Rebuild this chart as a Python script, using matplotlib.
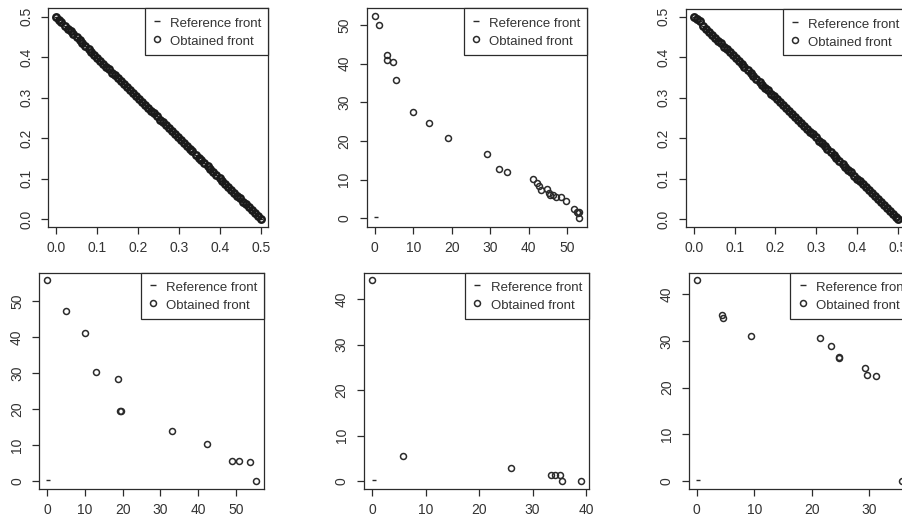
import matplotlib
matplotlib.use('Agg')
import matplotlib.pyplot as plt
from matplotlib.lines import Line2D

plt.rcParams['font.family'] = ['Liberation Sans', 'DejaVu Sans']

#%% data
# panel 1 (top left)
p1_x = [0.000, 0.007, 0.014, 0.022, 0.029, 0.036, 0.043, 0.051, 0.058, 0.065,
        0.072, 0.080, 0.087, 0.094, 0.101, 0.109, 0.116, 0.123, 0.130, 0.138,
        0.145, 0.152, 0.159, 0.167, 0.174, 0.181, 0.188, 0.196, 0.203, 0.210,
        0.217, 0.225, 0.232, 0.239, 0.246, 0.254, 0.261, 0.268, 0.275, 0.283,
        0.290, 0.297, 0.304, 0.312, 0.319, 0.326, 0.333, 0.341, 0.348, 0.355,
        0.362, 0.370, 0.377, 0.384, 0.391, 0.399, 0.406, 0.413, 0.420, 0.428,
        0.435, 0.442, 0.449, 0.457, 0.464, 0.471, 0.478, 0.486, 0.493, 0.500]
p1_y = [0.500, 0.493, 0.486, 0.478, 0.471, 0.464, 0.457, 0.449, 0.442, 0.435,
        0.428, 0.420, 0.413, 0.406, 0.399, 0.391, 0.384, 0.377, 0.370, 0.362,
        0.355, 0.348, 0.341, 0.333, 0.326, 0.319, 0.312, 0.304, 0.297, 0.290,
        0.283, 0.275, 0.268, 0.261, 0.254, 0.246, 0.239, 0.232, 0.225, 0.217,
        0.210, 0.203, 0.196, 0.188, 0.181, 0.174, 0.167, 0.159, 0.152, 0.145,
        0.138, 0.130, 0.123, 0.116, 0.109, 0.101, 0.094, 0.087, 0.080, 0.072,
        0.065, 0.058, 0.051, 0.043, 0.036, 0.029, 0.022, 0.014, 0.007, 0.000]

# panel 2 (top middle)
p2_x = [0.0, 1.1, 3.2, 3.3, 4.7, 5.5, 10.0, 14.0, 19.0, 29.2, 32.2, 34.4,
        41.1, 42.2, 42.7, 43.3, 44.8, 45.2, 45.5, 46.4, 47.2, 48.3, 49.7,
        51.7, 52.6, 52.9, 53.1, 53.1]
p2_y = [52.2, 50.0, 42.1, 40.9, 40.3, 35.8, 27.4, 24.6, 20.9, 16.6, 12.8, 12.0,
        10.3, 9.2, 8.4, 7.3, 7.5, 6.6, 6.0, 6.0, 5.6, 5.4, 4.4,
        2.5, 1.7, 1.3, 1.6, 0.0]

# panel 3 (top right)
p3_x = [0.000, 0.008, 0.015, 0.024, 0.030, 0.037, 0.045, 0.052, 0.059, 0.066,
        0.074, 0.081, 0.088, 0.095, 0.103, 0.110, 0.117, 0.124, 0.132, 0.139,
        0.146, 0.153, 0.161, 0.168, 0.175, 0.182, 0.190, 0.197, 0.204, 0.211,
        0.219, 0.226, 0.233, 0.240, 0.248, 0.255, 0.262, 0.269, 0.277, 0.284,
        0.291, 0.298, 0.306, 0.313, 0.320, 0.327, 0.335, 0.342, 0.349, 0.356,
        0.364, 0.371, 0.378, 0.385, 0.393, 0.400, 0.407, 0.414, 0.422, 0.429,
        0.436, 0.443, 0.451, 0.458, 0.465, 0.472, 0.480, 0.487, 0.494, 0.500]
p3_y = [0.500, 0.494, 0.489, 0.476, 0.470, 0.463, 0.455, 0.448, 0.441, 0.434,
        0.426, 0.419, 0.412, 0.405, 0.397, 0.390, 0.383, 0.376, 0.368, 0.361,
        0.354, 0.347, 0.339, 0.332, 0.325, 0.318, 0.310, 0.303, 0.296, 0.289,
        0.281, 0.274, 0.267, 0.260, 0.252, 0.245, 0.238, 0.231, 0.223, 0.216,
        0.209, 0.202, 0.194, 0.187, 0.180, 0.173, 0.165, 0.158, 0.151, 0.144,
        0.136, 0.129, 0.122, 0.115, 0.107, 0.100, 0.093, 0.086, 0.078, 0.071,
        0.064, 0.057, 0.049, 0.042, 0.035, 0.028, 0.020, 0.013, 0.006, 0.000]

# panel 4 (bottom left)
p4_x = [0.0, 5.0, 9.9, 12.9, 18.8, 19.4, 19.5, 33.0, 42.2, 49.0, 50.7, 53.8, 55.2]
p4_y = [55.9, 47.2, 41.1, 30.3, 28.4, 19.4, 19.5, 14.0, 10.4, 5.6, 5.5, 5.4, 0.0]

# panel 5 (bottom middle)
p5_x = [0.0, 5.7, 26.0, 33.4, 34.2, 35.1, 35.6, 39.0]
p5_y = [44.3, 5.5, 2.8, 1.3, 1.3, 1.3, 0.1, 0.0]

# panel 6 (bottom right)
p6_x = [0.0, 4.4, 4.6, 9.5, 21.4, 23.4, 24.7, 24.8, 29.3, 29.6, 31.1, 35.6]
p6_y = [43.1, 35.5, 34.8, 31.0, 30.6, 29.0, 26.4, 26.5, 24.1, 22.7, 22.5, 0.0]

# reference fronts
ref_x = [0.3]
ref_y = [0.3]

legend_labels = ['Reference front', 'Obtained front']

#%% layout (figure fractions) and axis settings
panels = [
    (p1_x, p1_y, p1_x, p1_y, [0.0536, 0.5657, 0.2439, 0.4184], (-0.018, 0.518), (-0.019, 0.521),
     [0, 0.1, 0.2, 0.3, 0.4, 0.5], [0, 0.1, 0.2, 0.3, 0.4, 0.5], True),
    (p2_x, p2_y, ref_x, ref_y, [0.4065, 0.5657, 0.2446, 0.4184], (-2.08, 55.2), (-2.16, 54.3),
     [0, 10, 20, 30, 40, 50], [0, 10, 20, 30, 40, 50], False),
    (p3_x, p3_y, p3_x, p3_y, [0.7602, 0.5657, 0.2445, 0.4170], (-0.0195, 0.5196), (-0.019, 0.519),
     [0, 0.1, 0.2, 0.3, 0.4, 0.5], [0, 0.1, 0.2, 0.3, 0.4, 0.5], True),
    (p4_x, p4_y, ref_x, ref_y, [0.0436, 0.0626, 0.2494, 0.4150], (-2.1, 57.5), (-2.3, 57.8),
     [0, 10, 20, 30, 40, 50], [0, 10, 20, 30, 40, 50], False),
    (p5_x, p5_y, ref_x, ref_y, [0.4035, 0.0626, 0.2491, 0.4150], (-1.56, 40.5), (-1.83, 45.8),
     [0, 10, 20, 30, 40], [0, 10, 20, 30, 40], False),
    (p6_x, p6_y, ref_x, ref_y, [0.7639, 0.0626, 0.2494, 0.4150], (-1.33, 37.75), (-1.78, 44.6),
     [0, 10, 20, 30], [0, 10, 20, 30, 40], False),
]

ink = '#2b2b2b'

fig = plt.figure(figsize=(9.02, 5.22), dpi=100)

for (ox, oy, rx, ry, rect, xl, yl, xt, yt, dense) in panels:
    ax = fig.add_axes(rect)
    ax.plot(rx, ry, linestyle='none', marker='_', markersize=3, color=ink, mew=1)
    # dense fronts look like a thick solid line in the original
    ax.plot(ox, oy, linestyle='none', marker='o', markersize=4.6 if dense else 4.3,
            mfc='none', mec='#1a1a1a' if dense else ink, mew=1.8 if dense else 1.1)
    ax.set_xlim(xl)
    ax.set_ylim(yl)
    ax.set_xticks(xt)
    ax.set_yticks(yt)
    if dense:
        ax.set_xticklabels(['%.1f' % v for v in xt])
        ax.set_yticklabels(['%.1f' % v for v in yt])
    else:
        ax.set_xticklabels([str(v) for v in xt])
        ax.set_yticklabels([str(v) for v in yt])
    for lab in ax.get_yticklabels():
        lab.set_rotation(90)
        lab.set_va('center')
    ax.tick_params(axis='both', direction='out', length=5, width=0.9, colors=ink,
                   labelsize=10, labelcolor='#333333')
    ax.tick_params(axis='x', pad=5)
    ax.tick_params(axis='y', pad=6)
    for sp in ax.spines.values():
        sp.set_color(ink)
        sp.set_linewidth(0.9)

    handles = [Line2D([], [], linestyle='none', marker='_', markersize=4, color=ink, mew=1),
               Line2D([], [], linestyle='none', marker='o', markersize=4.3, mfc='none',
                      mec=ink, mew=1.1)]
    leg = ax.legend(handles, legend_labels, loc='upper right', borderaxespad=0,
                    fancybox=False, fontsize=9.5, handlelength=0.9, handletextpad=0.55,
                    handleheight=1.4, labelspacing=0.2, borderpad=0.5, framealpha=1)
    leg.get_frame().set_edgecolor(ink)
    leg.get_frame().set_linewidth(0.9)
    for t in leg.get_texts():
        t.set_color('#333333')

plt.savefig('out.png', dpi=100)
